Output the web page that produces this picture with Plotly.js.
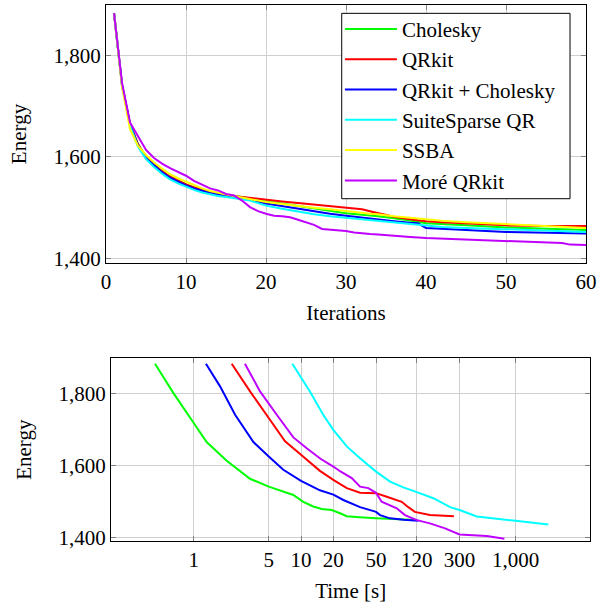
<!DOCTYPE html>
<html>
<head>
<meta charset="utf-8">
<script src="https://cdn.plot.ly/plotly-3.0.1.min.js"></script>
<style>html,body{margin:0;padding:0;background:#fff}#chart{width:597px;height:606px}</style>
</head>
<body>
<div id="chart"></div>
<script>
// ---- Top panel: energy vs iterations ----
const iters = [1,2,3,4,5,6,7,8,9,10,11,12,13,14,15,16,17,18,19,20,22,24,26,28,30,32,33,34,36,38,39,40,42,45,50,55,60];
const cholIter   = [1884,1742,1665,1625,1600,1585,1572,1561,1553,1546,1540,1535,1531,1528,1525,1523,1521,1518,1515,1512,1508,1503,1498,1494,1489,1486,1485,1483,1479,1475,1472,1469,1467,1465,1461,1459,1456];
const qrkitIter  = [1884,1742,1665,1625,1600,1585,1572,1561,1553,1546,1540,1535,1531,1528,1525,1523,1521,1519,1517,1515,1512,1509,1506,1504,1501,1497,1493,1489,1482,1477,1475,1473,1471,1469,1465,1464,1464];
const qrcholIter = [1884,1742,1664,1623,1598,1583,1570,1559,1551,1544,1538,1533,1529,1526,1523,1521,1519,1516,1512,1508,1503,1497,1492,1488,1484,1480,1478,1476,1473,1470,1469,1460,1458,1456,1452,1450,1449];
const ssqrIter   = [1884,1740,1662,1620,1596,1580,1567,1556,1548,1541,1535,1530,1526,1523,1521,1519,1517,1514,1509,1504,1498,1492,1487,1483,1480,1477,1475,1473,1470,1467,1466,1464,1462,1460,1457,1455,1452];
const ssbaIter   = [1884,1738,1655,1622,1604,1589,1577,1566,1558,1551,1544,1538,1533,1529,1526,1523,1520,1517,1514,1511,1507,1503,1500,1497,1494,1490,1488,1487,1483,1480,1478,1477,1474,1471,1467,1463,1460];
const moreIters  = [1,2,3,4,5,6,7,8,9,10,11,12,13,14,15,16,17,18,19,20,21,22,23,24,25,26,27,28,29,30,31,32,33,34,36,38,40,45,50,55,57,58,60];
const moreIter   = [1884,1746,1668,1640,1614,1598,1587,1578,1570,1563,1553,1546,1538,1534,1527,1524,1514,1501,1493,1488,1484,1483,1481,1476,1471,1466,1458,1457,1456,1454,1451,1449,1448,1447,1444,1442,1440,1437,1434,1431,1430,1427,1426];

// ---- Bottom panel: energy vs time [s] ----
const cholTime   = [0.436,0.645,1.0,1.32,2.03,3.35,5,6.84,8.48,10.5,13,15.6,19.3,23.1,26.7,35,50,120];
const cholEnergy = [1884,1803,1719,1666,1614,1564,1542,1528,1519,1500,1487,1480,1477,1468,1460,1457,1454,1449];
const qrcholTime   = [1.30,1.76,2.43,3.6,5,6.84,10,15,20,24.8,35.5,50,54.5,67.6,90,124];
const qrcholEnergy = [1884,1821,1742,1666,1626,1589,1558,1532,1520,1505,1485,1472,1463,1454,1450,1447];
const qrkitTime   = [2.26,3.35,5,7.1,10,15,20,26.7,35.5,50,63,86.8,100,115,159,266];
const qrkitEnergy = [1884,1807,1733,1668,1631,1586,1561,1538,1525,1524,1514,1500,1485,1472,1463,1460];
const moreTime   = [3.0,4.15,5.94,8.48,11.3,15.3,20,23.1,29.7,35.5,42.4,50,56.4,78,93,120,159,220,300,538,785];
const moreEnergy = [1884,1807,1742,1679,1649,1619,1598,1585,1566,1542,1538,1525,1500,1482,1463,1449,1440,1426,1409,1405,1397];
const ssqrTime   = [8.3,12.1,16.1,20,23.1,26.7,35.5,50,67.6,89.8,120,171,245,300,434,716,1000,2017];
const ssqrEnergy = [1884,1807,1742,1700,1677,1654,1621,1584,1556,1540,1527,1510,1485,1477,1459,1451,1447,1437];

const names = ["Cholesky","QRkit","QRkit + Cholesky","SuiteSparse QR","SSBA","Moré QRkit"];
const colors = ["#00ff00","#ff0000","#0000ff","#00ffff","#ffff00","#bf00ff"];
const timeTicks = [1,5,10,20,50,120,300,1000];
const timeTickText = ["1","5","10","20","50","120","300","1,000"];

const topX = [iters,iters,iters,iters,iters,moreIters];
const topY = [cholIter,qrkitIter,qrcholIter,ssqrIter,ssbaIter,moreIter];
const botX = [cholTime,qrkitTime,qrcholTime,ssqrTime,null,moreTime];
const botY = [cholEnergy,qrkitEnergy,qrcholEnergy,ssqrEnergy,null,moreEnergy];

const traces = [];
for (let i = 0; i < names.length; i++) {
  traces.push({x: topX[i], y: topY[i], type: "scatter", mode: "lines", name: names[i],
    line: {color: colors[i], width: 2}, xaxis: "x", yaxis: "y", showlegend: true,
    legendgroup: "g" + i});
}
for (let i = 0; i < names.length; i++) {
  if (!botX[i]) continue;
  traces.push({x: botX[i], y: botY[i], type: "scatter", mode: "lines", name: names[i],
    line: {color: colors[i], width: 2}, xaxis: "x2", yaxis: "y2", showlegend: false});
}

function mkFont() { return {family: "Times New Roman", size: 21, color: "#000"}; }
function axisBase() {
  return {showline: true, linecolor: "#000", linewidth: 1, mirror: "all",
    ticks: "inside", ticklen: 5, tickcolor: "#808080", showgrid: true, gridcolor: "#d0d0d0",
    gridwidth: 1, zeroline: false, tickfont: mkFont()};
}

const layout = {
  width: 597, height: 606, margin: {l: 0, r: 0, t: 0, b: 0},
  paper_bgcolor: "#fff", plot_bgcolor: "#fff", font: mkFont(),
  xaxis: Object.assign(axisBase(), {domain: [0.1776, 0.9816], range: [0, 60],
    tickvals: [0,10,20,30,40,50,60], anchor: "y",
    title: {text: "Iterations", font: mkFont(), standoff: 12}}),
  yaxis: Object.assign(axisBase(), {domain: [0.566, 0.9917], range: [1390.7, 1900],
    tickvals: [1400,1600,1800], tickformat: ",d", anchor: "x",
    title: {text: "Energy", font: mkFont(), standoff: 21}}),
  xaxis2: Object.assign(axisBase(), {domain: [0.1859, 0.9888], type: "log",
    range: [-0.771, 3.696], tickvals: timeTicks, ticktext: timeTickText, anchor: "y2",
    title: {text: "Time [s]", font: mkFont(), standoff: 12}}),
  yaxis2: Object.assign(axisBase(), {domain: [0.1073, 0.4087], range: [1391, 1899],
    tickvals: [1400,1600,1800], tickformat: ",d", anchor: "x2",
    title: {text: "Energy", font: mkFont(), standoff: 21}}),
  legend: {x: 0.5694, y: 0.9856, xanchor: "left", yanchor: "top", bgcolor: "rgba(0,0,0,0)",
    borderwidth: 0, tracegroupgap: 0, itemwidth: 52, font: mkFont()},
  shapes: [{type: "rect", xref: "paper", yref: "paper", x0: 0.5724, x1: 0.9548,
    y0: 0.6721, y1: 0.978, line: {color: "#000", width: 1}, fillcolor: "#fff", layer: "above"}]
};

Plotly.newPlot("chart", traces, layout, {displayModeBar: false, staticPlot: true});
</script>
</body>
</html>
